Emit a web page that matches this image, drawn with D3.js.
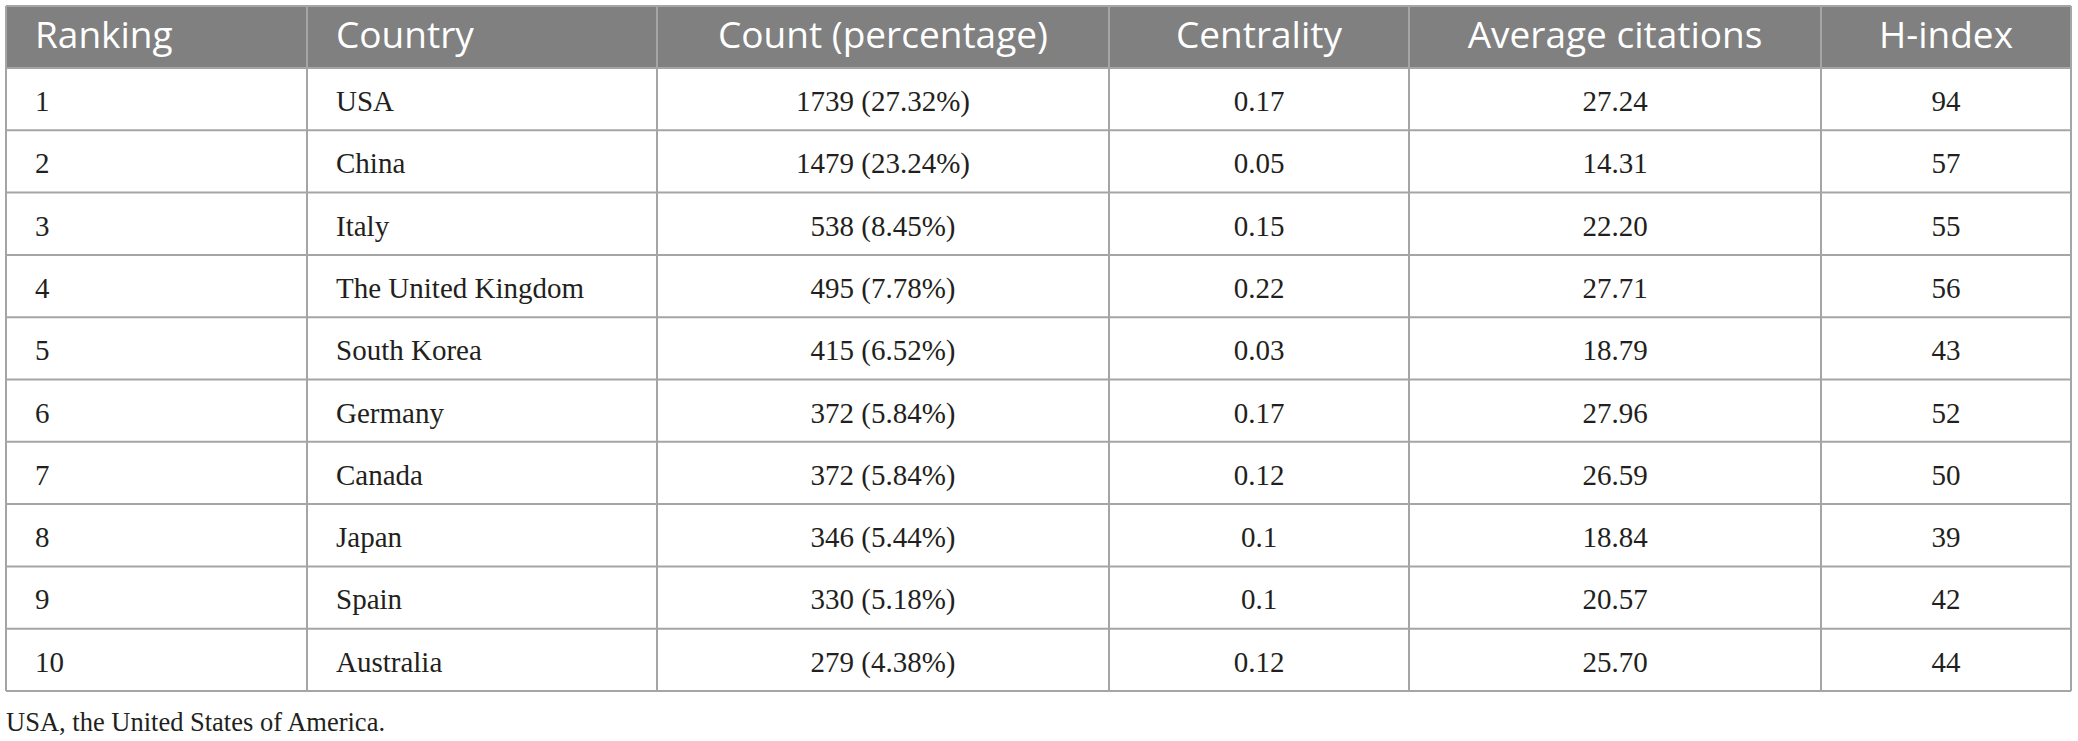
<!DOCTYPE html>
<html>
<head>
<meta charset="utf-8">
<script src="https://cdn.jsdelivr.net/npm/d3@7"></script>
<style>
  html, body { margin: 0; padding: 0; background: #ffffff; }
  svg { display: block; }
</style>
</head>
<body>
<svg id="chart"></svg>
<script>
// ---- data ----
const headers = ["Ranking", "Country", "Count (percentage)", "Centrality", "Average citations", "H-index"];
const rankings = [1, 2, 3, 4, 5, 6, 7, 8, 9, 10];
const countries = ["USA", "China", "Italy", "The United Kingdom", "South Korea", "Germany", "Canada", "Japan", "Spain", "Australia"];
const counts = [1739, 1479, 538, 495, 415, 372, 372, 346, 330, 279];
const percentages = [27.32, 23.24, 8.45, 7.78, 6.52, 5.84, 5.84, 5.44, 5.18, 4.38];
const centrality = [0.17, 0.05, 0.15, 0.22, 0.03, 0.17, 0.12, 0.1, 0.1, 0.12];
const avgCitations = [27.24, 14.31, 22.20, 27.71, 18.79, 27.96, 26.59, 18.84, 20.57, 25.70];
const hIndex = [94, 57, 55, 56, 43, 52, 50, 39, 42, 44];
const footnote = "USA, the United States of America.";

// ---- layout ----
const W = 2078, H = 741;
const tableLeft = 6, tableTop = 6, headerH = 62, tableBottom = 691;
const colWidths = [301, 350, 452, 300, 412, 250];
const colAlign = ["start", "start", "middle", "middle", "middle", "middle"];
const padLeft = 29;
const gridColor = "#a5a5a5";
const headerBg = "#808080";
const textColor = "#231f20";

const svg = d3.select("#chart").attr("width", W).attr("height", H);

const edges = [tableLeft];
colWidths.forEach(w => edges.push(edges[edges.length - 1] + w));
const tableRight = edges[edges.length - 1];

const x = d3.scaleOrdinal().domain(d3.range(colWidths.length)).range(edges.slice(0, -1));
const y = d3.scaleBand().domain(rankings).range([tableTop + headerH, tableBottom]).paddingInner(0);

const rows = rankings.map((r, i) => [
  String(r),
  countries[i],
  `${counts[i]} (${percentages[i].toFixed(2)}%)`,
  String(centrality[i]),
  avgCitations[i].toFixed(2),
  String(hIndex[i])
]);

function textX(c) {
  return colAlign[c] === "start" ? x(c) + padLeft : x(c) + colWidths[c] / 2;
}

// header background
svg.append("rect")
  .attr("x", tableLeft).attr("y", tableTop)
  .attr("width", tableRight - tableLeft).attr("height", headerH)
  .attr("fill", headerBg);

// header text
svg.append("g").selectAll("text").data(headers).join("text")
  .attr("x", (d, c) => textX(c))
  .attr("y", tableTop + headerH / 2)
  .attr("dy", "0.31em")
  .attr("text-anchor", (d, c) => colAlign[c])
  .attr("fill", "#ffffff")
  .style("font-family", "'Open Sans', sans-serif")
  .style("font-size", "37px")
  .text(d => d);

// body text
const rowG = svg.append("g").selectAll("g").data(rows).join("g")
  .attr("transform", (d, i) => `translate(0,${y(rankings[i]) + y.bandwidth() / 2})`);
rowG.selectAll("text").data(d => d).join("text")
  .attr("x", (d, c) => textX(c))
  .attr("dy", "0.41em")
  .attr("text-anchor", (d, c) => colAlign[c])
  .attr("fill", textColor)
  .style("font-family", "'Liberation Serif', 'Times New Roman', serif")
  .style("font-size", "29px")
  .text(d => d);

// horizontal grid lines
const hLines = [tableTop, tableTop + headerH].concat(rankings.map(r => y(r) + y.bandwidth()));
svg.append("g").selectAll("line").data(hLines).join("line")
  .attr("x1", tableLeft).attr("x2", tableRight)
  .attr("y1", d => d).attr("y2", d => d)
  .attr("stroke", gridColor).attr("stroke-width", 2);

// vertical grid lines
svg.append("g").selectAll("line").data(edges).join("line")
  .attr("x1", d => d).attr("x2", d => d)
  .attr("y1", tableTop).attr("y2", tableBottom)
  .attr("stroke", gridColor).attr("stroke-width", 2);

// footnote
svg.append("text")
  .attr("x", tableLeft)
  .attr("y", 731)
  .attr("fill", textColor)
  .style("font-family", "'Liberation Serif', 'Times New Roman', serif")
  .style("font-size", "26.5px")
  .text(footnote);
</script>
</body>
</html>
